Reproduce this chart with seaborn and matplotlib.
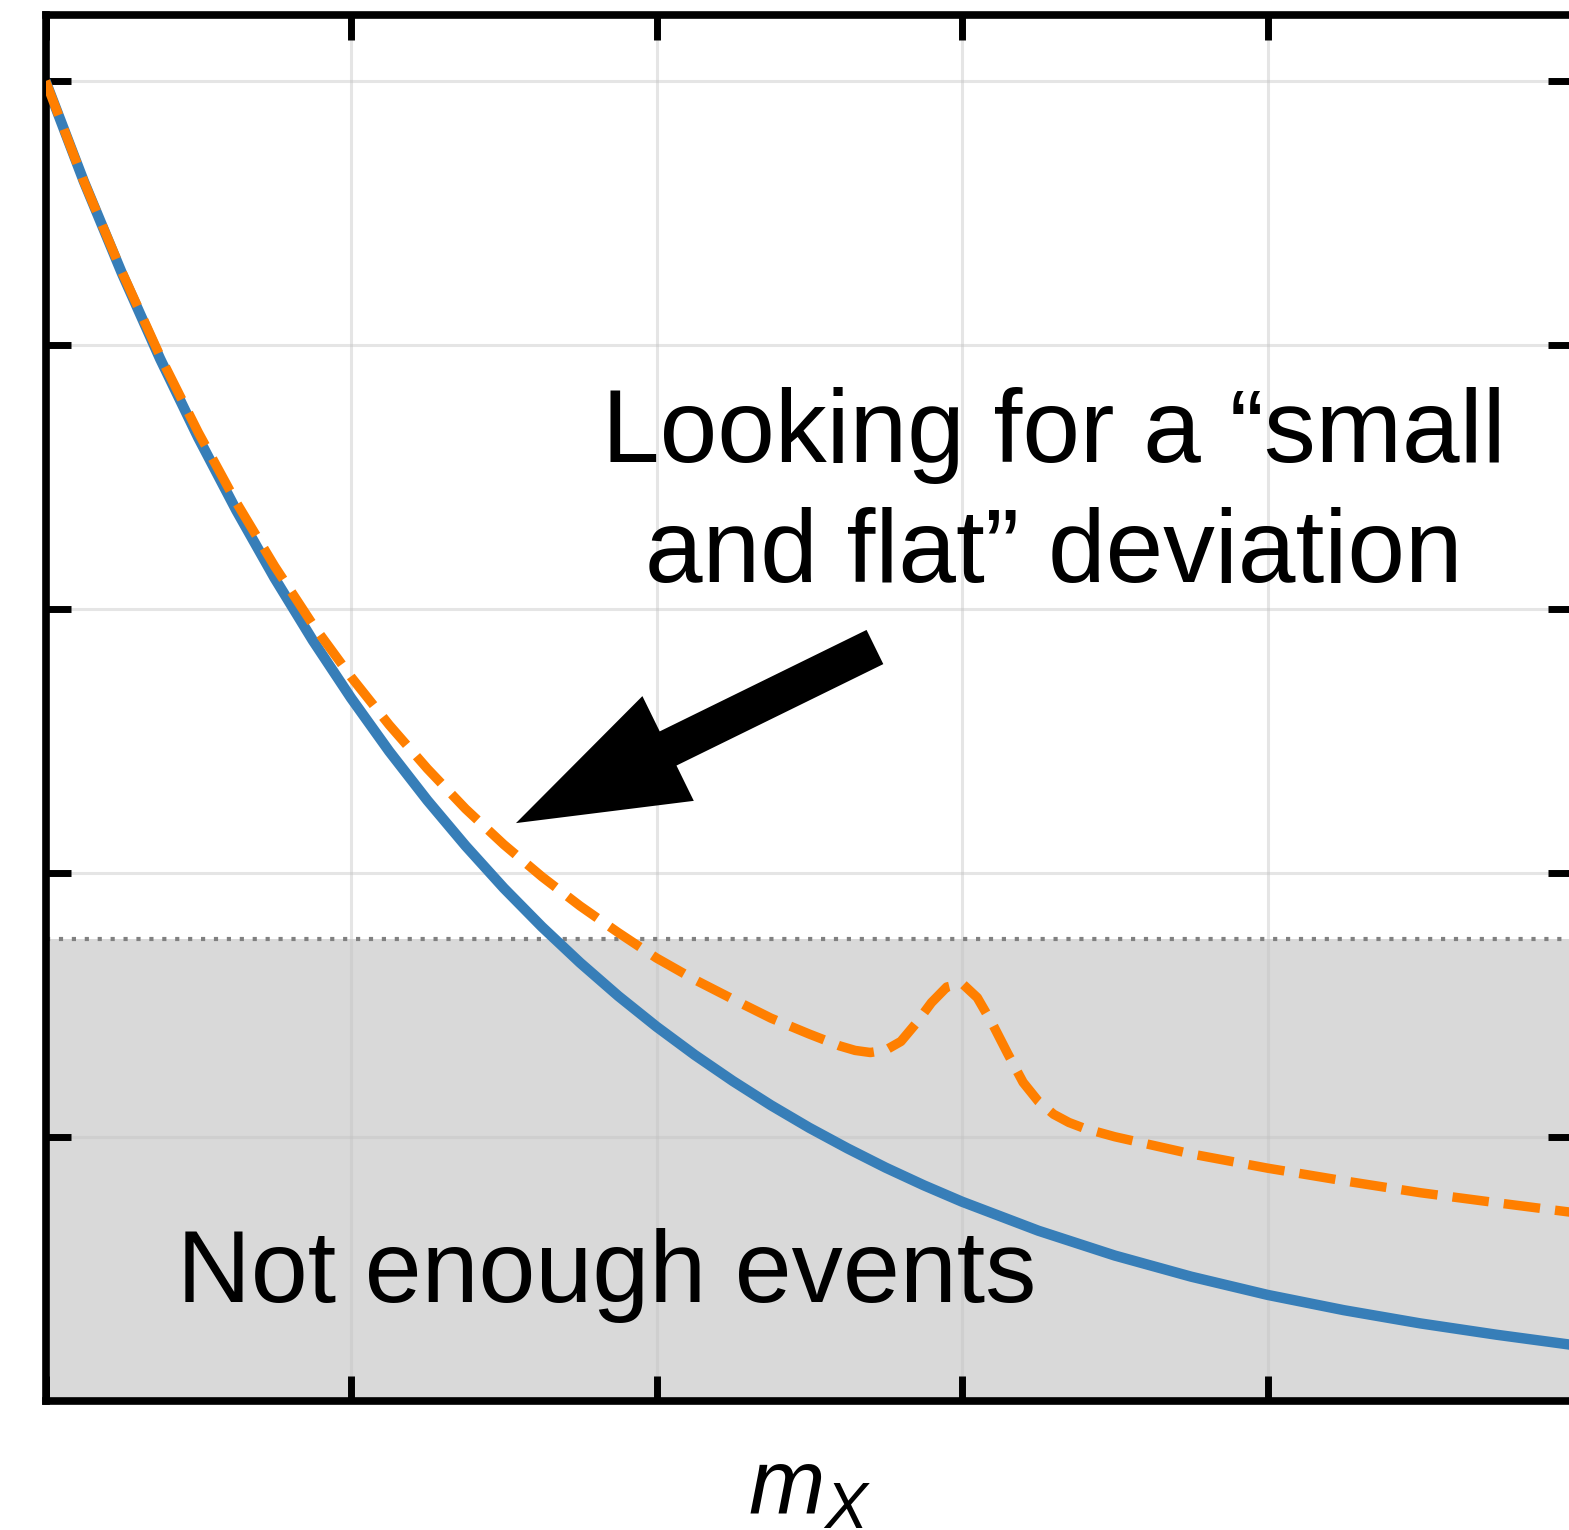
import numpy as np
import pandas as pd
import matplotlib
matplotlib.use("Agg")
import matplotlib.pyplot as plt
import seaborn as sns

# background-only curve (solid blue)
bkg_x = [0.0, 0.125, 0.25, 0.375, 0.5, 0.625, 0.75, 0.875, 1.0, 1.125, 1.25, 1.375, 1.5,
         1.625, 1.75, 1.875, 2.0, 2.125, 2.25, 2.375, 2.5, 2.625, 2.75, 2.875, 3.0,
         3.25, 3.5, 3.75, 4.0, 4.25, 4.5, 4.75, 5.0]
bkg_y = [5.0, 4.621, 4.272, 3.948, 3.649, 3.373, 3.117, 2.881, 2.663, 2.461, 2.275, 2.103, 1.943,
         1.796, 1.660, 1.534, 1.418, 1.311, 1.212, 1.120, 1.035, 0.957, 0.884, 0.817, 0.755,
         0.645, 0.551, 0.471, 0.402, 0.344, 0.294, 0.251, 0.212]

# background + signal curve (dashed orange)
sig_x = [0.0, 0.125, 0.25, 0.375, 0.5, 0.625, 0.75, 0.875, 1.0, 1.125, 1.25, 1.375, 1.5,
         1.625, 1.75, 1.875, 2.0, 2.125, 2.25, 2.375, 2.5, 2.6, 2.65, 2.7, 2.75, 2.8, 2.85,
         2.9, 2.95, 3.0, 3.05, 3.1, 3.15, 3.2, 3.25, 3.3, 3.35, 3.4, 3.5, 3.75, 4.0,
         4.25, 4.5, 4.75, 5.0]
sig_y = [5.0, 4.621, 4.277, 3.958, 3.669, 3.403, 3.162, 2.941, 2.743, 2.561, 2.395, 2.243, 2.108,
         1.986, 1.875, 1.774, 1.678, 1.596, 1.522, 1.450, 1.390, 1.345, 1.328, 1.320, 1.329, 1.362, 1.431,
         1.509, 1.568, 1.582, 1.528, 1.428, 1.315, 1.207, 1.135, 1.086, 1.055, 1.033, 1.001, 0.936, 0.882,
         0.834, 0.789, 0.751, 0.714]

threshold = 1.75
x_ticks = [0, 1, 2, 3, 4, 5]
y_ticks = [1, 2, 3, 4, 5]

label_text = ["Looking for a \u201csmall", "and flat\u201d deviation"]
low_text = "Not enough events"

sns.set_theme(style="whitegrid")
plt.rcParams["font.family"] = ["Liberation Sans", "DejaVu Sans"]
plt.rcParams["mathtext.fontset"] = "custom"
plt.rcParams["mathtext.it"] = "Liberation Sans:italic"
plt.rcParams["mathtext.rm"] = "Liberation Sans"
plt.rcParams["text.color"] = "black"
plt.rcParams["axes.labelcolor"] = "black"

fig = plt.figure(figsize=(15.69, 15.30), dpi=100)
ax = fig.add_axes([45.5 / 1569, 129 / 1530, (1573 - 45.5) / 1569, (1401 - 15) / 1530])
ax.set_facecolor("white")

ax.axhspan(0, threshold, color="#d9d9d9", lw=0, zorder=1)
ax.axhline(threshold, color="#808080", lw=3, linestyle=(0, (1, 2.1)), zorder=1.8)

bkg = pd.DataFrame({"m": bkg_x, "n": bkg_y})
sig = pd.DataFrame({"m": sig_x, "n": sig_y})
sns.lineplot(data=bkg, x="m", y="n", color="#377eb8", lw=7.5, ax=ax, zorder=2)
sns.lineplot(data=sig, x="m", y="n", color="#ff7f00", lw=6.8, ax=ax, zorder=3,
             linestyle=(0, (3.87, 1.6)))

ax.set_xlim(0, 5)
ax.set_ylim(0, 5.25)
ax.set_xticks(x_ticks)
ax.set_yticks(y_ticks)
ax.set_xticklabels([])
ax.set_yticklabels([])
ax.set_axisbelow("line")
ax.grid(True, color="#c0c0c0", alpha=0.4, lw=2.2)
ax.tick_params(direction="in", length=18, width=5, top=True, right=True,
               bottom=True, left=True, color="black")
for s in ax.spines.values():
    s.set_visible(True)
    s.set_color("black")
    s.set_linewidth(5.5)

ax.set_xlabel("$m_X$", fontsize=66, labelpad=30, color="black")
ax.set_ylabel("")

ax.text(3.301, 3.557, label_text[0], fontsize=74.5, ha="center", va="baseline", zorder=5)
ax.text(3.301, 3.102, label_text[1], fontsize=74.5, ha="center", va="baseline", zorder=5)
ax.text(0.43, 0.375, low_text, fontsize=73.7, ha="left", va="baseline", zorder=5)

# big black arrow pointing to where the curves start to split
ax.annotate("", xy=(1.540, 2.189), xytext=(2.715, 2.856),
            arrowprops=dict(width=27.4, headwidth=84, headlength=122, shrink=0.0,
                            fc="black", ec="none"), zorder=6)

fig.savefig("out.png", dpi=100)
